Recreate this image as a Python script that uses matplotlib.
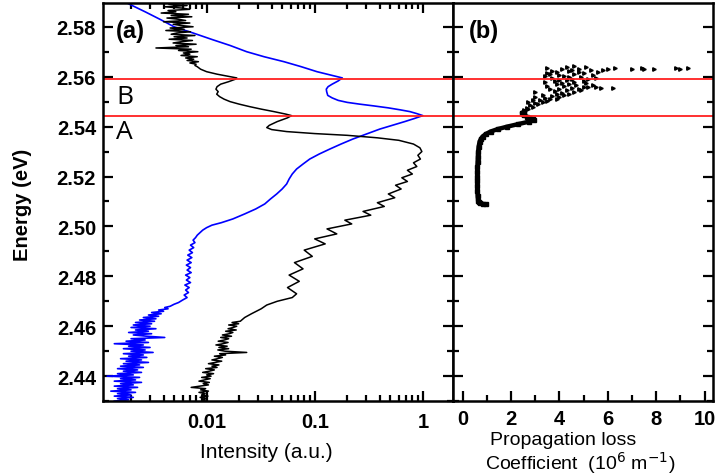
import numpy as np
import matplotlib.pyplot as plt
from matplotlib.ticker import FixedLocator, FixedFormatter, LogLocator, MultipleLocator, NullFormatter

plt.rcParams['font.family'] = ['Liberation Sans', 'DejaVu Sans']

# ---------------- data ----------------
# panel (a), black curve: energy (eV) vs intensity (a.u.), top noisy part
black_top_e = [2.5890, 2.5885, 2.5880, 2.5875, 2.5870, 2.5865, 2.5860, 2.5855, 2.5850, 2.5845,
               2.5840, 2.5835, 2.5830, 2.5825, 2.5820, 2.5815, 2.5810, 2.5805, 2.5800, 2.5795,
               2.5790, 2.5785, 2.5780, 2.5775, 2.5770, 2.5765, 2.5760, 2.5755, 2.5750, 2.5745,
               2.5740, 2.5735, 2.5730, 2.5725, 2.5720, 2.5715, 2.5710, 2.5705, 2.5700, 2.5695,
               2.5690, 2.5685, 2.5680, 2.5675, 2.5670, 2.5665, 2.5660, 2.5655, 2.5650, 2.5645]
black_top_i = [0.0045, 0.0066, 0.0041, 0.0059, 0.0070, 0.0044, 0.0052, 0.0038, 0.0068, 0.0047,
               0.0073, 0.0043, 0.0055, 0.0064, 0.0040, 0.0070, 0.0049, 0.0058, 0.0075, 0.0046,
               0.0062, 0.0042, 0.0071, 0.0053, 0.0047, 0.0078, 0.0050, 0.0066, 0.0045, 0.0074,
               0.0058, 0.0049, 0.0080, 0.0052, 0.0068, 0.0034, 0.0072, 0.0055, 0.0083, 0.0061,
               0.0070, 0.0058, 0.0082, 0.0064, 0.0076, 0.0066, 0.0084, 0.0070, 0.0080, 0.0078]

# black curve, middle part (peaks A, B and fringes)
black_mid_e = [2.5640, 2.5630, 2.5620, 2.5610, 2.5600, 2.5595, 2.5590, 2.5580, 2.5570, 2.5560,
               2.5550, 2.5540, 2.5530, 2.5520, 2.5510, 2.5500, 2.5490, 2.5480, 2.5470, 2.5460,
               2.5450, 2.5444, 2.5435, 2.5420, 2.5405, 2.5396, 2.5388, 2.5380, 2.5372, 2.5365,
               2.5355, 2.5345, 2.5330, 2.5315, 2.5300, 2.5285, 2.5270, 2.5255, 2.5240, 2.5225,
               2.5210, 2.5195, 2.5180, 2.5165, 2.5150, 2.5130, 2.5115, 2.5095, 2.5080, 2.5060,
               2.5045, 2.5025, 2.5010, 2.4990, 2.4970, 2.4950, 2.4930, 2.4905, 2.4880, 2.4855,
               2.4830, 2.4805, 2.4780, 2.4755, 2.4730, 2.4715, 2.4700, 2.4685, 2.4670, 2.4650,
               2.4635]
black_mid_i = [0.0082, 0.0088, 0.0100, 0.0125, 0.0165, 0.0190, 0.0185, 0.0160, 0.0135, 0.0125,
               0.0122, 0.0128, 0.0124, 0.0132, 0.0145, 0.0165, 0.0200, 0.0250, 0.0320, 0.0420,
               0.0540, 0.0610, 0.0560, 0.0450, 0.0380, 0.0360, 0.0400, 0.0550, 0.1000, 0.2000,
               0.3800, 0.6000, 0.8200, 0.9400, 0.9800, 0.9000, 0.9500, 0.8200, 0.8800, 0.7200,
               0.8000, 0.6400, 0.7200, 0.5600, 0.6300, 0.4800, 0.5500, 0.3800, 0.4400, 0.2800,
               0.3300, 0.1900, 0.2200, 0.1300, 0.1600, 0.1000, 0.1250, 0.0800, 0.0950, 0.0650,
               0.0780, 0.0580, 0.0720, 0.0560, 0.0680, 0.0620, 0.0450, 0.0360, 0.0320, 0.0260,
               0.0225]

# black curve, bottom noisy part
black_low_e = [2.4620, 2.4615, 2.4610, 2.4605, 2.4600, 2.4595, 2.4590, 2.4585, 2.4580, 2.4575,
               2.4570, 2.4565, 2.4560, 2.4555, 2.4550, 2.4545, 2.4540, 2.4535, 2.4530, 2.4525,
               2.4520, 2.4515, 2.4510, 2.4505, 2.4500, 2.4495, 2.4490, 2.4485, 2.4480, 2.4475,
               2.4470, 2.4465, 2.4460, 2.4455, 2.4450, 2.4445, 2.4440, 2.4435, 2.4430, 2.4425,
               2.4420, 2.4415, 2.4410, 2.4405, 2.4400, 2.4395, 2.4390, 2.4385, 2.4380, 2.4375,
               2.4370, 2.4365, 2.4360, 2.4355, 2.4350, 2.4345, 2.4340, 2.4335, 2.4330, 2.4325,
               2.4320, 2.4315, 2.4310, 2.4305, 2.4300]
black_low_i = [0.0205, 0.0172, 0.0198, 0.0160, 0.0190, 0.0176, 0.0158, 0.0188, 0.0150, 0.0175,
               0.0162, 0.0140, 0.0170, 0.0135, 0.0160, 0.0146, 0.0128, 0.0158, 0.0142, 0.0122,
               0.0155, 0.0130, 0.0160, 0.0127, 0.0148, 0.0235, 0.0132, 0.0150, 0.0118, 0.0140,
               0.0126, 0.0112, 0.0138, 0.0120, 0.0104, 0.0130, 0.0112, 0.0125, 0.0098, 0.0118,
               0.0106, 0.0092, 0.0116, 0.0100, 0.0110, 0.0090, 0.0108, 0.0096, 0.0085, 0.0106,
               0.0093, 0.0104, 0.0086, 0.0072, 0.0098, 0.0088, 0.0104, 0.0085, 0.0097, 0.0090,
               0.0103, 0.0087, 0.0100, 0.0092, 0.0098]

# panel (a), blue curve, upper smooth part
blue_top_e = [2.5892, 2.5860, 2.5830, 2.5800, 2.5775, 2.5748, 2.5725, 2.5700, 2.5680, 2.5660,
              2.5640, 2.5620, 2.5605, 2.5595, 2.5583, 2.5570, 2.5560, 2.5550, 2.5540, 2.5525,
              2.5515, 2.5505, 2.5497, 2.5490, 2.5483, 2.5475, 2.5467, 2.5460, 2.5452, 2.5444,
              2.5432, 2.5420, 2.5405, 2.5390, 2.5370, 2.5350, 2.5330, 2.5310, 2.5290, 2.5270,
              2.5250, 2.5230, 2.5210, 2.5190, 2.5170, 2.5150, 2.5130, 2.5110, 2.5090, 2.5070,
              2.5050, 2.5030, 2.5015, 2.5005, 2.4995, 2.4985, 2.4975, 2.4965, 2.4955, 2.4945,
              2.4935, 2.4925, 2.4915, 2.4905, 2.4895, 2.4885, 2.4875, 2.4865, 2.4855, 2.4845,
              2.4835, 2.4825, 2.4815, 2.4805, 2.4795, 2.4785, 2.4775, 2.4765, 2.4755, 2.4745,
              2.4735, 2.4725, 2.4715, 2.4705, 2.4695, 2.4688]
blue_top_i = [0.0019, 0.0027, 0.0037, 0.0050, 0.0075, 0.0114, 0.0165, 0.0235, 0.0340, 0.0520,
              0.0750, 0.1050, 0.1450, 0.1800, 0.1650, 0.1450, 0.1330, 0.1280, 0.1290, 0.1320,
              0.1450, 0.1650, 0.2000, 0.2600, 0.3500, 0.4800, 0.6200, 0.7600, 0.8800, 1.0000,
              0.8300, 0.6800, 0.5200, 0.4000, 0.3000, 0.2250, 0.1750, 0.1380, 0.1100, 0.0900,
              0.0780, 0.0680, 0.0620, 0.0580, 0.0550, 0.0500, 0.0445, 0.0390, 0.0345, 0.0285,
              0.0225, 0.0175, 0.0137, 0.0112, 0.0100, 0.0092, 0.0087, 0.0082, 0.0079, 0.0075,
              0.0078, 0.0071, 0.0076, 0.0069, 0.0074, 0.0067, 0.0073, 0.0066, 0.0072, 0.0065,
              0.0071, 0.0066, 0.0072, 0.0064, 0.0070, 0.0065, 0.0071, 0.0063, 0.0069, 0.0064,
              0.0068, 0.0062, 0.0066, 0.0060, 0.0055, 0.0050]

# blue curve, lower noisy part
blue_low_e = [2.4680, 2.4675, 2.4670, 2.4665, 2.4660, 2.4655, 2.4650, 2.4645, 2.4640, 2.4635,
              2.4630, 2.4625, 2.4620, 2.4615, 2.4610, 2.4605, 2.4600, 2.4595, 2.4590, 2.4585,
              2.4580, 2.4575, 2.4570, 2.4565, 2.4560, 2.4555, 2.4550, 2.4545, 2.4540, 2.4535,
              2.4530, 2.4525, 2.4520, 2.4515, 2.4510, 2.4505, 2.4500, 2.4495, 2.4490, 2.4485,
              2.4480, 2.4475, 2.4470, 2.4465, 2.4460, 2.4455, 2.4450, 2.4445, 2.4440, 2.4435,
              2.4430, 2.4425, 2.4420, 2.4415, 2.4410, 2.4405, 2.4400, 2.4395, 2.4390, 2.4385,
              2.4380, 2.4375, 2.4370, 2.4365, 2.4360, 2.4355, 2.4350, 2.4345, 2.4340, 2.4335,
              2.4330, 2.4325, 2.4320, 2.4315, 2.4310, 2.4305, 2.4300]
blue_low_i = [0.0046, 0.0041, 0.0044, 0.0036, 0.0040, 0.0031, 0.0038, 0.0029, 0.0036, 0.0026,
              0.0034, 0.0024, 0.0033, 0.0022, 0.0031, 0.0021, 0.0030, 0.0020, 0.0034, 0.0022,
              0.0029, 0.0019, 0.0031, 0.0021, 0.0028, 0.0041, 0.0020, 0.0027, 0.0018, 0.0029,
              0.0014, 0.0026, 0.0019, 0.0030, 0.0017, 0.0027, 0.0020, 0.0032, 0.0017, 0.0026,
              0.0019, 0.0028, 0.0016, 0.0025, 0.0018, 0.0029, 0.0017, 0.0024, 0.0016, 0.0026,
              0.0015, 0.0023, 0.0017, 0.0025, 0.0015, 0.0021, 0.0012, 0.0024, 0.0016, 0.0022,
              0.0014, 0.0025, 0.0016, 0.0021, 0.0014, 0.0023, 0.0015, 0.0020, 0.0013, 0.0022,
              0.0015, 0.0020, 0.0014, 0.0021, 0.0015, 0.0019, 0.0014]

# panel (b), dense part of propagation loss (10^6 m^-1)
loss_e = [2.5088, 2.5090, 2.5093, 2.5097, 2.5100, 2.5120, 2.5140, 2.5160, 2.5180, 2.5200,
          2.5220, 2.5240, 2.5260, 2.5280, 2.5300, 2.5320, 2.5340, 2.5350, 2.5360, 2.5370,
          2.5380, 2.5390, 2.5400, 2.5410, 2.5420, 2.5425, 2.5430, 2.5435, 2.5440, 2.5445,
          2.5450, 2.5455, 2.5460]
loss_v = [0.95, 0.85, 0.72, 0.66, 0.64, 0.62, 0.61, 0.60, 0.60, 0.60,
          0.60, 0.61, 0.62, 0.63, 0.64, 0.66, 0.70, 0.75, 0.82, 0.95,
          1.15, 1.45, 1.85, 2.30, 2.75, 2.95, 2.90, 2.75, 2.65, 2.55,
          2.50, 2.45, 2.55]

# panel (b), scattered part
scat_e = [2.5465, 2.5470, 2.5475, 2.5480, 2.5485, 2.5490, 2.5495, 2.5500, 2.5503, 2.5505,
          2.5510, 2.5512, 2.5515, 2.5520, 2.5522, 2.5525, 2.5530, 2.5532, 2.5535, 2.5540,
          2.5542, 2.5545, 2.5550, 2.5552, 2.5555, 2.5560, 2.5562, 2.5565, 2.5570, 2.5572,
          2.5575, 2.5580, 2.5582, 2.5585, 2.5590, 2.5592, 2.5595, 2.5600, 2.5603, 2.5606,
          2.5610, 2.5612, 2.5615, 2.5620, 2.5622, 2.5625, 2.5630, 2.5632, 2.5635, 2.5638,
          2.5640, 2.5642, 2.5556, 2.5553, 2.5560, 2.5632, 2.5634, 2.5631, 2.5633, 2.5630,
          2.5632, 2.5634, 2.5631, 2.5636, 2.5628, 2.5548, 2.5551, 2.5557, 2.5563, 2.5567,
          2.5573, 2.5578, 2.5583, 2.5588, 2.5593, 2.5598, 2.5601, 2.5608, 2.5613, 2.5618,
          2.5623, 2.5627, 2.5619, 2.5537, 2.5527, 2.5517, 2.5507, 2.5497]
scat_v = [2.55, 2.70, 2.65, 2.90, 2.80, 3.10, 3.00, 3.30, 3.50, 3.20,
          3.60, 3.90, 3.40, 4.00, 3.70, 4.20, 3.90, 4.40, 4.10, 4.60,
          3.80, 4.30, 4.80, 4.00, 4.50, 5.00, 4.20, 4.70, 3.90, 4.40,
          5.10, 4.60, 3.80, 4.30, 5.20, 4.50, 3.70, 4.90, 4.20, 5.40,
          3.60, 4.60, 5.00, 3.90, 4.40, 5.30, 4.10, 4.80, 3.50, 5.10,
          4.30, 4.60, 5.70, 6.20, 5.50, 6.00, 6.30, 7.00, 7.40, 7.50,
          7.90, 8.80, 9.00, 9.30, 5.80, 4.90, 3.60, 5.20, 3.50, 5.40,
          4.10, 3.40, 5.00, 4.00, 5.50, 4.40, 3.40, 4.00, 3.50, 4.80,
          3.70, 4.50, 5.60, 3.00, 3.30, 3.00, 2.90, 2.70]

line_a = 2.5444
line_b = 2.5590

# ---------------- figure ----------------
fig = plt.figure(figsize=(7.15, 4.77), dpi=100)
ax1 = fig.add_axes([0.144, 0.157, 0.4895, 0.8345])
ax2 = fig.add_axes([0.6336, 0.157, 0.3636, 0.8345], sharey=ax1)

blue_e = blue_top_e + blue_low_e
blue_i = blue_top_i + blue_low_i
black_e = black_top_e + black_mid_e + black_low_e
black_i = black_top_i + black_mid_i + black_low_i

ax1.plot(blue_i, blue_e, color='#0000ff', lw=1.2)
ax1.plot(black_i, black_e, color='black', lw=1.1)
ax1.set_xscale('log')
ax1.set_xlim(0.0011, 1.9)
ax1.set_ylim(2.43, 2.5895)

ax2.plot(loss_v, loss_e, color='black', lw=3.2, marker='s', ms=2.5)
ax2.plot(scat_v, scat_e, color='black', ls='none', marker='>', ms=2.5)
ax2.set_xlim(-0.4, 10.35)

for ax in (ax1, ax2):
    ax.axhline(line_a, color='#ff2020', lw=1.3)
    ax.axhline(line_b, color='#ff2020', lw=1.3)
    for s in ax.spines.values():
        s.set_linewidth(1.8)

ax1.xaxis.set_major_locator(FixedLocator([0.01, 0.1, 1]))
ax1.xaxis.set_major_formatter(FixedFormatter(['0.01', '0.1', '1']))
ax1.xaxis.set_minor_locator(LogLocator(base=10, subs=np.arange(2, 10)))
ax1.xaxis.set_minor_formatter(NullFormatter())
ax1.yaxis.set_major_locator(FixedLocator([2.44, 2.46, 2.48, 2.50, 2.52, 2.54, 2.56, 2.58]))
ax1.yaxis.set_minor_locator(MultipleLocator(0.01))
ax1.yaxis.set_major_formatter(plt.FormatStrFormatter('%.2f'))

ax2.xaxis.set_major_locator(MultipleLocator(2))
ax2.xaxis.set_minor_locator(MultipleLocator(1))

ax1.tick_params(which='both', direction='in', top=True, right=True, width=1.6, labelsize=14.5)
ax1.tick_params(which='major', length=7)
ax1.tick_params(which='minor', length=4)
ax2.tick_params(which='both', direction='in', top=False, right=True, left=True, width=1.6,
                labelsize=14.5, labelleft=False)
ax2.tick_params(which='major', length=7)
ax2.tick_params(which='minor', length=4)
for lab in ax1.get_xticklabels() + ax1.get_yticklabels() + ax2.get_xticklabels():
    lab.set_fontweight('bold')
ax1.tick_params(axis='x', pad=8)
ax1.tick_params(axis='y', pad=5)
ax2.tick_params(axis='x', pad=6)

fig.text(0.032, 0.570, 'Energy (eV)', fontsize=14.5, fontweight='bold', rotation=90,
         ha='center', va='center')
fig.text(0.372, 0.052, 'Intensity (a.u.)', fontsize=15, ha='center', va='center')
fig.text(0.787, 0.076, 'Propagation loss', fontsize=14, ha='center', va='center')
fig.text(0.811, 0.030, 'Coefficient  (10$^{6}$ m$^{-1}$)', fontsize=14, ha='center', va='center')

ax1.text(0.077, 0.93, '(a)', transform=ax1.transAxes, fontsize=17, fontweight='bold',
         ha='center', va='center')
ax2.text(0.119, 0.93, '(b)', transform=ax2.transAxes, fontsize=17, fontweight='bold',
         ha='center', va='center')
ax1.text(0.00175, 2.5520, 'B', fontsize=19, ha='center', va='center', family=['Open Sans', 'DejaVu Sans'])
ax1.text(0.00175, 2.5380, 'A', fontsize=19, ha='center', va='center', family=['Open Sans', 'DejaVu Sans'])

fig.savefig('out.png', dpi=100)
